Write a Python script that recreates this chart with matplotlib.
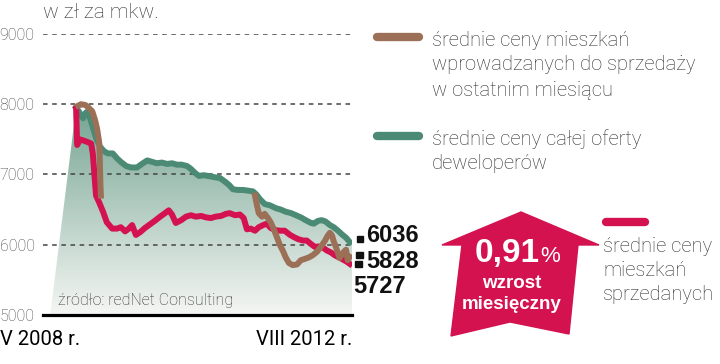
import numpy as np
import matplotlib
matplotlib.use('Agg')
import matplotlib.pyplot as plt
from matplotlib.patches import Polygon, Rectangle
from matplotlib.lines import Line2D

# months since V 2008 (0) to VIII 2012 (51), prices in zl per m2
green_m = [0.2, 0.7, 1.5, 2.0, 2.4, 3.2, 3.9, 4.6, 5.4, 6.1, 7.0, 7.8, 8.5, 9.5, 10.4, 11.5,
           12.4, 13.4, 14.3, 15.2, 16.1, 17.1, 18.0, 18.9, 19.8, 20.8, 21.5, 22.3, 23.0, 23.9,
           25.0, 26.0, 26.9, 27.8, 28.6, 29.3, 30.2, 31.2, 32.1, 33.0, 33.6, 34.3, 35.2, 36.2,
           37.3, 38.2, 39.1, 40.1, 41.0, 41.9, 42.8, 43.8, 44.3, 45.1, 45.8, 46.5, 47.3, 48.0,
           48.8, 49.5, 50.3, 51.0]
green_v = [7950, 7900, 7800, 7880, 7900, 7700, 7520, 7400, 7330, 7300, 7300, 7230, 7180, 7120,
           7100, 7100, 7150, 7200, 7180, 7160, 7170, 7150, 7160, 7140, 7140, 7120, 7080, 7020,
           6980, 6990, 6975, 6960, 6950, 6900, 6850, 6790, 6780, 6780, 6770, 6760, 6720, 6650,
           6580, 6560, 6520, 6500, 6470, 6450, 6420, 6390, 6350, 6310, 6300, 6340, 6350, 6330,
           6280, 6250, 6200, 6150, 6100, 6036]

red_m = [0.2, 0.4, 0.9, 1.7, 2.4, 3.0, 3.3, 3.5, 3.7, 3.9, 4.5, 5.2, 5.9, 6.9, 7.8, 8.5, 9.3,
         10.0, 10.6, 11.3, 12.1, 13.0, 13.9, 14.8, 15.8, 16.7, 17.4, 18.0, 18.7, 19.7, 20.6,
         21.5, 22.4, 23.4, 24.3, 25.2, 26.1, 27.1, 28.0, 28.7, 29.7, 30.6, 31.3, 31.9, 32.6,
         33.4, 34.1, 34.9, 35.6, 36.3, 37.1, 38.0, 38.9, 39.9, 40.6, 41.4, 42.3, 43.0, 43.8,
         44.5, 45.2, 46.0, 46.7, 47.5, 48.2, 49.0, 49.7, 50.4, 51.0]
red_v = [7940, 7420, 7500, 7480, 7460, 7440, 7300, 7100, 6900, 6700, 6600, 6470, 6320, 6230,
         6230, 6250, 6190, 6230, 6280, 6140, 6180, 6240, 6290, 6340, 6400, 6450, 6490, 6430,
         6310, 6350, 6400, 6420, 6400, 6410, 6390, 6380, 6400, 6410, 6440, 6450, 6420, 6430,
         6380, 6220, 6230, 6200, 6250, 6280, 6300, 6240, 6210, 6200, 6200, 6140, 6110, 6080,
         6060, 6060, 6010, 5970, 5975, 5960, 5920, 5890, 5850, 5820, 5790, 5760, 5727]

brown_m = [0.6, 1.1, 1.9, 2.4, 3.2, 3.7, 4.1, 4.5, 4.6, 4.7, 4.8, 5.0,
           33.4, 33.8, 34.1, 34.7, 35.2, 35.8, 36.3, 36.9, 37.5, 38.0, 38.6, 39.1, 39.7, 40.4,
           41.2, 41.9, 42.7, 43.4, 44.1, 44.9, 45.6, 46.4, 46.9, 47.3, 47.7, 48.0, 48.4, 48.8,
           49.1, 49.5, 49.9, 50.3, 50.6, 51.0]
brown_v = [7980, 8000, 7990, 7960, 7900, 7780, 7650, 7450, 7200, 6900, 6700, np.nan,
           6700, 6550, 6450, 6400, 6440, 6380, 6320, 6220, 6100, 6000, 5910, 5820, 5740, 5710,
           5720, 5780, 5800, 5820, 5850, 5900, 5970, 6060, 6130, 6170, 6130, 6050, 5970, 5880,
           5810, 5860, 5900, 5930, 5780, 5828]

yticks = [5000, 6000, 7000, 8000, 9000]
end_labels = ['6036', '5828', '5727']

C_GREEN = '#4b8a74'
C_RED = '#d3124f'
C_BROWN = '#9c6f57'
C_TEXT = '#2e2e2e'

W, H = 720, 364
fig = plt.figure(figsize=(W / 100, H / 100), dpi=100)


def fx(px):
    return px / W


def fy(py):
    return 1 - py / H


ax = fig.add_axes([fx(43), fy(315), fx(352) - fx(43), fy(34) - fy(315)])
ax.set_xlim(-5.94, 51.4)
ax.set_ylim(5000, 9000)
for s in ax.spines.values():
    s.set_visible(False)
ax.set_xticks([])
ax.set_yticks(yticks)
ax.set_yticklabels([str(t) for t in yticks], fontsize=11.5, color='#444444',
                   family=['Roboto', 'DejaVu Sans'], fontweight='light')
ax.tick_params(axis='y', length=0, pad=6)

# gradient area under the offer line
poly_xy = [(-4.6, 5000)] + list(zip(green_m, green_v)) + [(51.4, green_v[-1]), (51.4, 5000)]
poly = Polygon(poly_xy, closed=True, facecolor='none', edgecolor='none')
ax.add_patch(poly)
grad = np.linspace(0, 1, 256).reshape(-1, 1)
top = np.array([0.45, 0.64, 0.57])
bot = np.array([0.96, 0.965, 0.955])
img = top[None, None, :] * (1 - grad[..., None]) + bot[None, None, :] * grad[..., None]
im = ax.imshow(img, extent=[-6, 52, 5000, 8000], origin='upper', aspect='auto', zorder=1)
im.set_clip_path(poly)
ax.set_xlim(-5.94, 51.4)
ax.set_ylim(5000, 9000)

for t in yticks[1:]:
    ax.axhline(t, color='#444444', lw=1.1, dashes=(3, 3), zorder=2)
ax.axhline(5000, color='black', lw=2.3, zorder=5, clip_on=False)

ax.plot(green_m, green_v, color=C_GREEN, lw=4.3, solid_joinstyle='round', zorder=3)
ax.plot(red_m, red_v, color=C_RED, lw=4.3, solid_joinstyle='round', zorder=4)
ax.plot(brown_m, brown_v, color=C_BROWN, lw=4.3, solid_joinstyle='round', zorder=4.5)

light = dict(family=['Roboto', 'DejaVu Sans'], fontweight='light', color=C_TEXT)

fig.text(fx(43), fy(12), 'w zł za mkw.', fontsize=15, va='center', ha='left', **light)
fig.text(fx(58), fy(301), 'źródło: redNet Consulting', fontsize=11.5, va='center', ha='left', **light)
fig.text(fx(0), fy(345), 'V 2008 r.', fontsize=14.5, va='baseline', ha='left',
         family=['Roboto', 'DejaVu Sans'], color='black')
fig.text(fx(352), fy(345), 'VIII 2012 r.', fontsize=14.5, va='baseline', ha='right',
         family=['Roboto', 'DejaVu Sans'], color='black')

# end values
bold = dict(family=['Liberation Sans', 'DejaVu Sans'], fontweight='bold', color='#111111')
fig.text(fx(366), fy(242), end_labels[0], fontsize=17, va='baseline', ha='left', **bold)
fig.text(fx(366), fy(268), end_labels[1], fontsize=17, va='baseline', ha='left', **bold)
fig.text(fx(353), fy(293), end_labels[2], fontsize=17, va='baseline', ha='left', **bold)
for (x0, y0, w, h) in [(357, 236, 6, 6), (356, 252, 7, 6), (355, 261, 7, 6)]:
    fig.patches.append(Rectangle((fx(x0), fy(y0 + h)), w / W, h / H, color='#111111',
                                 transform=fig.transFigure, figure=fig))

# legend
def leg_line(x0, x1, y, c):
    fig.lines.append(Line2D([fx(x0), fx(x1)], [fy(y), fy(y)], color=c, lw=6,
                            solid_capstyle='round', transform=fig.transFigure, figure=fig))


leg_line(377, 419, 37, C_BROWN)
leg_line(377, 419, 136, C_GREEN)
leg_line(606, 645, 222, C_RED)
for i, s in enumerate(['średnie ceny mieszkań', 'wprowadzanych do sprzedaży', 'w ostatnim miesiącu']):
    fig.text(fx(432), fy(40 + 25 * i), s, fontsize=14.5, va='center', ha='left', **light)
for i, s in enumerate(['średnie ceny całej oferty', 'deweloperów']):
    fig.text(fx(432), fy(139 + 25 * i), s, fontsize=14.5, va='center', ha='left', **light)
for i, s in enumerate(['średnie ceny', 'mieszkań', 'sprzedanych']):
    fig.text(fx(603), fy(247 + 24 * i), s, fontsize=14.5, va='center', ha='left', **light)

# arrow
arrow_px = [(521, 212), (599, 245), (578, 245), (569, 334), (510, 322), (451, 336),
            (462, 245), (442, 245)]
fig.patches.append(Polygon([(fx(x), fy(y)) for x, y in arrow_px], closed=True, color=C_RED,
                           transform=fig.transFigure, figure=fig))
wb = dict(family=['Liberation Sans', 'DejaVu Sans'], fontweight='bold', color='white')
fig.text(fx(540), fy(262), '0,91', fontsize=24, va='baseline', ha='right', **wb)
fig.text(fx(540), fy(262), '%', fontsize=16, va='baseline', ha='left',
         family=['Liberation Sans', 'DejaVu Sans'], color='white')
fig.text(fx(512), fy(288), 'wzrost', fontsize=13.5, va='baseline', ha='center', **wb)
fig.text(fx(512), fy(309), 'miesięczny', fontsize=13.5, va='baseline', ha='center', **wb)

fig.savefig('out.png', dpi=100)
